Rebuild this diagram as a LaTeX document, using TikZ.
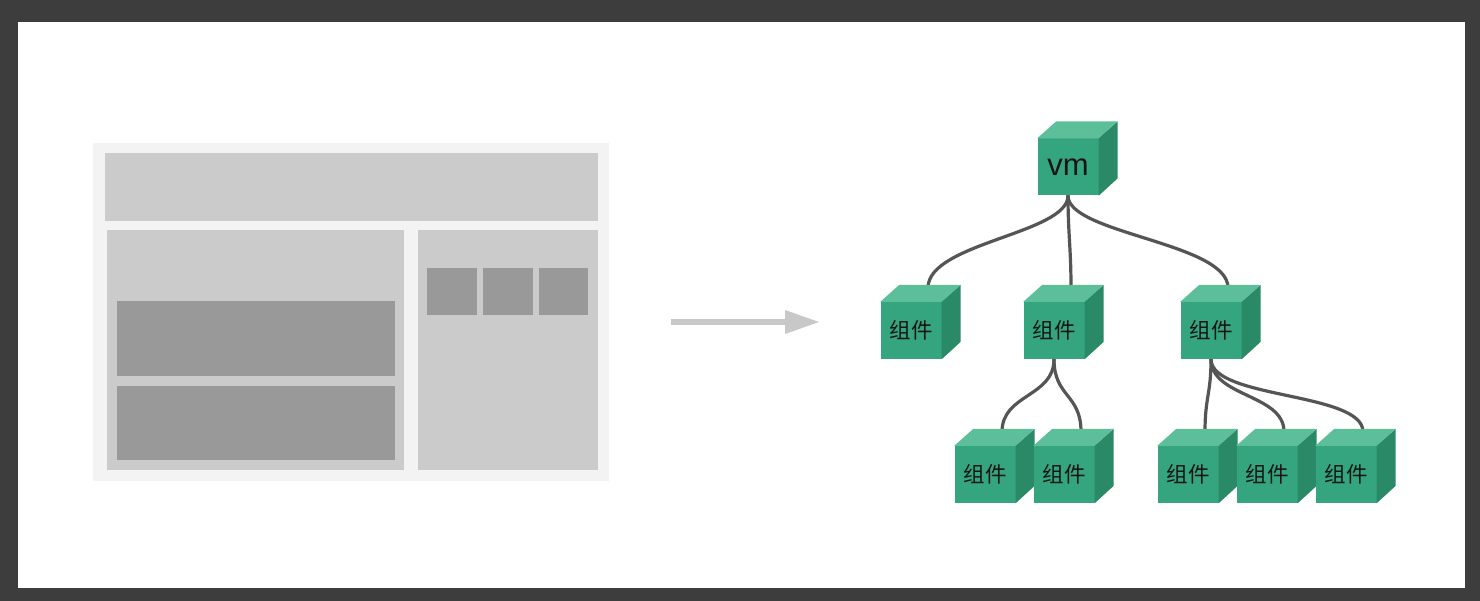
\documentclass[tikz,border=0pt]{standalone}
\usepackage{fontspec}
\setmainfont{Liberation Sans}
\newfontfamily\cjk{Noto Sans CJK SC}
\usetikzlibrary{calc,backgrounds}
\definecolor{frame}{HTML}{3D3D3D}
\definecolor{panelbg}{HTML}{F3F3F3}
\definecolor{panel}{HTML}{CBCBCB}
\definecolor{block}{HTML}{999999}
\definecolor{arrowgray}{HTML}{C8C8C8}
\definecolor{cubefront}{HTML}{35A57F}
\definecolor{cubetop}{HTML}{5DBF99}
\definecolor{cubeside}{HTML}{2A8A68}
\definecolor{wire}{HTML}{555555}
\definecolor{labeltext}{HTML}{151515}
\tikzset{
  cubeface/.style={rectangle, fill=cubefront, minimum width=61pt, minimum height=57pt, inner sep=0pt, text=labeltext},
  comp/.style={cubeface},
  vmlabel/.style={cubeface},
  wireline/.style={draw=wire, line width=3.2pt, line cap=round},
  graybox/.style={fill=panel},
  darkbox/.style={fill=block},
  cjklabel/.style={font=\cjk\fontsize{21.5}{21.5}\selectfont, text=labeltext},
  vmtext/.style={font=\fontsize{31}{31}\selectfont, text=labeltext},
}
\newcommand\mycube[4]{%
  \node[#4] (#1) at (#2,#3) {};
  \fill[cubetop] (#1.north west) -- ++(19pt,17pt) -- ++(61pt,0pt) -- (#1.north east) -- cycle;
  \fill[cubeside] (#1.north east) -- ++(19pt,17pt) -- ++(0pt,-57pt) -- (#1.south east) -- cycle;
  \coordinate (#1top) at ($(#1.north)+(17pt,14pt)$);
}
\begin{document}
\begin{tikzpicture}[x=1pt,y=-1pt]
\useasboundingbox (0,0) rectangle (1480,601);
\begin{pgfonlayer}{background}
\fill[frame] (0,0) rectangle (1480,601);
\fill[white] (18,22) rectangle (1465,588);
\end{pgfonlayer}
% left wireframe
\fill[panelbg] (93,143) rectangle (609,481);
\fill[graybox] (105,153) rectangle (598,221);
\fill[graybox] (107,230) rectangle (404,470);
\fill[darkbox] (117,301) rectangle (395,376);
\fill[darkbox] (117,386) rectangle (395,460);
\fill[graybox] (418,230) rectangle (598,470);
\fill[darkbox] (427,268) rectangle (477,315);
\fill[darkbox] (483,268) rectangle (533,315);
\fill[darkbox] (539,268) rectangle (588,315);
% arrow
\coordinate (arrowstart) at (671,322);
\coordinate (arrowend) at (786,322);
\draw[arrowgray, line width=6pt] (arrowstart) -- (arrowend);
\fill[arrowgray] (785,310) -- (819,322) -- (785,334) -- cycle;
% cubes
\mycube{vm}{1068}{167}{vmlabel}
\node[vmtext] at (vm) {vm};
\mycube{ca}{911}{330.5}{comp}
\mycube{cb}{1054}{330.5}{comp}
\mycube{cc}{1211}{330.5}{comp}
\mycube{cd}{985}{474.5}{comp}
\mycube{ce}{1064}{474.5}{comp}
\mycube{cf}{1188}{474.5}{comp}
\mycube{cg}{1267}{474.5}{comp}
\mycube{ch}{1346}{474.5}{comp}
\foreach \n in {ca,cb,cc,cd,ce,cf,cg,ch}{
  \node[cjklabel] at (\n) {组件};
}
\begin{pgfonlayer}{background}
\draw[wireline] (vm.south) .. controls +(0,38) and +(0,-45) .. (catop);
\draw[wireline] (vm.south) .. controls +(0,38) and +(0,-40) .. (cbtop);
\draw[wireline] (vm.south) .. controls +(0,38) and +(0,-45) .. (cctop);
\draw[wireline] (cb.south) .. controls +(0,38) and +(0,-38) .. (cdtop);
\draw[wireline] (cb.south) .. controls +(0,38) and +(0,-38) .. (cetop);
\draw[wireline] (cc.south) .. controls +(0,35) and +(0,-35) .. (cftop);
\draw[wireline] (cc.south) .. controls +(0,38) and +(0,-38) .. (cgtop);
\draw[wireline] (cc.south) .. controls +(0,40) and +(0,-40) .. (chtop);
\end{pgfonlayer}
\end{tikzpicture}
\end{document}
